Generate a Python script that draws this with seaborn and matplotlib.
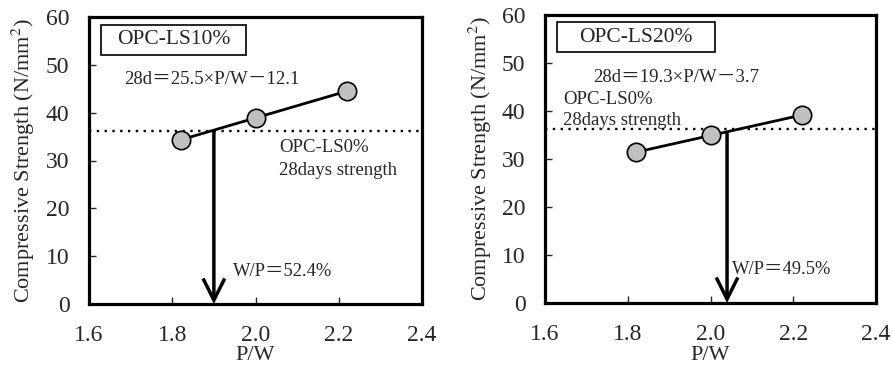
import matplotlib
matplotlib.use("Agg")
import matplotlib.pyplot as plt
from matplotlib.patches import Rectangle
import seaborn as sns
import pandas as pd
import numpy as np

sns.set_theme(style="white")
plt.rcParams['font.family'] = ['Liberation Serif', 'Noto Sans CJK JP']
plt.rcParams['mathtext.fontset'] = 'stix'

# ---- data ----
pw_ls10 = [1.82, 2.00, 2.22]
fc_ls10 = [34.3, 38.9, 44.6]
pw_ls20 = [1.82, 2.00, 2.22]
fc_ls20 = [31.4, 34.9, 39.2]
slope = [25.5, 19.3]
intercept = [-12.1, -3.7]
ref_strength = [36.2, 36.2]          # OPC-LS0% 28days strength
arrow_pw = [1.90, 2.04]              # P/W at required strength
panel_titles = ["OPC-LS10%", "OPC-LS20%"]
eq_labels = ["28d＝25.5×P/W－12.1", "28d＝19.3×P/W－3.7"]
wp_labels = ["W/P＝52.4%", "W/P＝49.5%"]
xticks = [1.6, 1.8, 2.0, 2.2, 2.4]
yticks = [0, 10, 20, 30, 40, 50, 60]

fig = plt.figure(figsize=(8.92, 3.67), dpi=100)
W, H = 892, 367
boxes = [(89, 17, 422, 304), (545, 15, 876, 303)]
datasets = [(pw_ls10, fc_ls10), (pw_ls20, fc_ls20)]

# layout of annotations (data coords)
txt_pos = [
    dict(box=(1.629, 52.1, 1.977, 58.4), title=(1.803, 55.2), eq=(1.684, 46.9),
         ref=(2.057, 32.8), ref2=(2.057, 28.0), wp=(1.946, 6.7)),
    dict(box=(1.628, 52.3, 2.012, 58.5), title=(1.82, 55.3), eq=(1.716, 46.9),
         ref=(1.643, 42.3), ref2=(1.643, 38.0), wp=(2.051, 6.9)),
]

for i in range(2):
    l, t, r, b = boxes[i]
    ax = fig.add_axes([l / W, 1 - b / H, (r - l) / W, (b - t) / H])
    x, y = datasets[i]
    df = pd.DataFrame({"P/W": x, "fc": y})
    # regression line
    xf = np.array([min(x), max(x)])
    fit = pd.DataFrame({"P/W": xf, "fc": slope[i] * xf + intercept[i]})
    sns.lineplot(data=fit, x="P/W", y="fc", ax=ax, color="black", lw=2.0, zorder=3)
    sns.scatterplot(data=df, x="P/W", y="fc", ax=ax, s=175, color="#c0c0c0",
                    edgecolor="black", linewidth=1.2, zorder=4)
    # reference dotted line
    ax.axhline(ref_strength[i], color="black", ls=(0, (1, 2.3)), lw=1.7, zorder=2)
    # arrow
    xa = arrow_pw[i]
    ya = slope[i] * xa + intercept[i]
    ax.annotate("", xy=(xa, 0), xytext=(xa, ya),
                arrowprops=dict(arrowstyle="->,head_length=1.3,head_width=0.65",
                                lw=2.5, color="black", shrinkA=0, shrinkB=0,
                                joinstyle="miter", capstyle="butt"),
                zorder=3)
    p = txt_pos[i]
    x0, y0, x1, y1 = p["box"]
    ax.add_patch(Rectangle((x0, y0), x1 - x0, y1 - y0, fc="white", ec="black",
                           lw=1.2, zorder=5))
    ax.text(*p["title"], panel_titles[i], ha="center", va="center", fontsize=15.5, zorder=6)
    ax.text(*p["eq"], eq_labels[i], ha="left", va="center", fontsize=13.5)
    ax.text(*p["ref"], "OPC-LS0%", ha="left", va="center", fontsize=13.5)
    ax.text(*p["ref2"], "28days strength", ha="left", va="center", fontsize=13.5)
    ax.text(*p["wp"], wp_labels[i], ha="left", va="center", fontsize=13.3)

    ax.set_xlim(1.6, 2.4)
    ax.set_ylim(0, 60)
    ax.set_xticks(xticks)
    ax.set_xticklabels([f"{v:.1f}" for v in xticks])
    ax.set_yticks(yticks)
    ax.tick_params(axis="x", direction="in", length=5, width=1, labelsize=17, pad=15, bottom=True)
    ax.tick_params(axis="y", direction="in", length=5, width=1, labelsize=17, pad=14, left=True)
    for s in ax.spines.values():
        s.set_linewidth(2.3)
        s.set_color("black")
    ax.set_xlabel("P/W", fontsize=16)
    ax.set_ylabel("Compressive Strength (N/mm$^2$)", fontsize=16)
    ax.xaxis.set_label_coords(0.5, -(356 - b) / (b - t))
    ax.xaxis.label.set_va("center")
    ylab_x = [23, 480][i]
    ax.yaxis.set_label_coords((ylab_x - l) / (r - l), 0.5)
    ax.yaxis.label.set_va("center")
    ax.grid(False)

fig.savefig("out.png", dpi=100)
